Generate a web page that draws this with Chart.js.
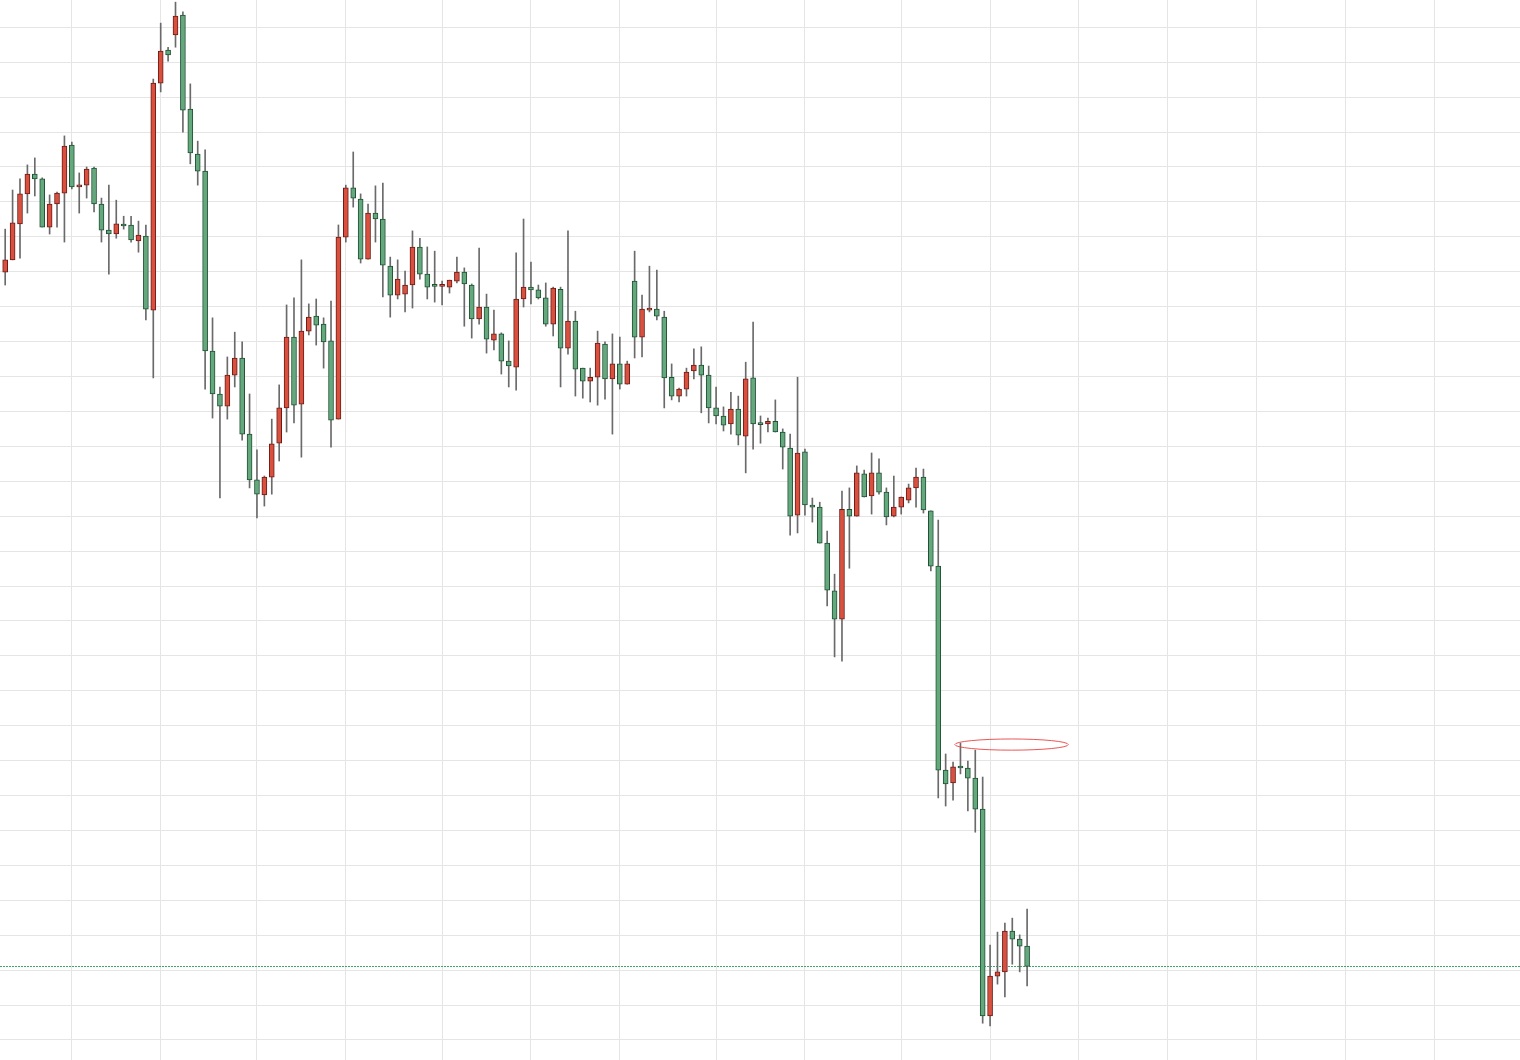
<!DOCTYPE html>
<html>
<head>
<meta charset="utf-8">
<script src="https://cdn.jsdelivr.net/npm/chart.js@4.4.1/dist/chart.umd.min.js"></script>
<style>
  html, body { margin: 0; padding: 0; background: #fff; }
  canvas { display: block; }
</style>
</head>
<body>
<canvas id="klineChart" width="1520" height="1060"></canvas>
<script>
// daily candles (index = trading day)
const opens = [
   52.99, 53.34, 54.37, 55.23, 55.80, 55.66, 54.28, 54.94, 55.25, 56.63,
   55.43, 55.48, 55.97, 54.94, 54.19, 54.08, 54.34, 54.34, 53.88, 54.02,
   51.90, 58.40, 59.35, 59.78, 60.35, 57.66, 56.37, 55.88, 50.73, 49.50,
   49.15, 50.04, 50.53, 48.35, 47.04, 46.61, 47.12, 48.09, 49.10, 51.13,
   49.21, 51.30, 51.73, 51.50, 51.02, 48.78, 53.99, 55.40, 55.08, 53.36,
   54.68, 54.51, 53.16, 52.33, 52.36, 52.62, 53.71, 52.93, 52.59, 52.58,
   52.56, 52.73, 52.99, 52.62, 51.65, 51.99, 51.04, 51.22, 50.44, 50.27,
   52.22, 52.56, 52.48, 52.25, 51.50, 52.50, 50.81, 51.59, 50.24, 49.87,
   49.98, 50.93, 49.93, 50.36, 49.78, 52.73, 51.13, 51.90, 51.93, 51.70,
   49.98, 49.44, 49.64, 50.16, 50.33, 50.04, 49.10, 48.87, 48.64, 49.07,
   48.29, 49.96, 48.64, 48.64, 48.72, 48.41, 47.95, 46.03, 47.84, 46.32,
   46.26, 45.23, 43.86, 43.05, 46.20, 46.00, 47.21, 46.58, 47.24, 46.69,
   46.00, 46.26, 46.46, 46.81, 47.12, 46.15, 44.57, 38.73, 38.36, 38.82,
   38.79, 38.50, 37.61, 31.69, 32.83, 32.95, 34.12, 33.89, 33.69
];
const highs = [
   54.22, 55.34, 55.66, 56.06, 56.26, 55.69, 55.20, 55.28, 56.89, 56.71,
   55.83, 56.00, 56.00, 55.11, 55.48, 55.05, 54.59, 54.59, 54.45, 54.34,
   58.52, 60.12, 59.43, 60.72, 60.44, 58.38, 56.74, 56.49, 51.68, 49.70,
   50.56, 51.27, 50.99, 49.50, 47.90, 47.15, 48.78, 49.76, 52.05, 52.25,
   53.34, 52.08, 52.22, 51.68, 52.16, 54.34, 55.48, 56.43, 55.23, 54.94,
   55.46, 55.54, 53.42, 53.34, 53.02, 54.17, 53.96, 53.71, 53.59, 52.73,
   52.76, 53.42, 53.11, 52.65, 53.68, 52.36, 51.90, 51.25, 51.02, 53.54,
   54.51, 53.28, 52.62, 52.68, 52.56, 52.56, 54.17, 51.87, 50.24, 50.24,
   51.30, 50.99, 51.22, 51.13, 50.44, 53.59, 52.33, 53.16, 53.05, 51.87,
   50.36, 49.67, 50.24, 50.79, 50.85, 50.30, 49.70, 49.13, 49.55, 49.44,
   50.41, 51.56, 48.87, 48.81, 49.33, 48.50, 48.35, 49.98, 47.92, 46.52,
   46.40, 45.57, 44.34, 46.72, 46.81, 47.44, 47.32, 47.81, 47.64, 46.81,
   47.15, 46.55, 46.92, 47.38, 47.35, 46.15, 45.89, 39.19, 38.96, 39.50,
   38.99, 39.30, 38.53, 33.72, 34.09, 34.35, 34.49, 34.01, 34.75
];
const lows = [
   52.62, 53.34, 53.39, 54.68, 55.17, 54.28, 54.08, 54.28, 53.85, 55.37,
   54.68, 55.11, 54.71, 53.85, 52.93, 53.96, 54.22, 53.85, 53.56, 51.62,
   49.96, 58.15, 59.03, 59.43, 57.00, 56.09, 55.48, 49.64, 48.81, 46.52,
   48.78, 49.70, 48.18, 46.81, 45.95, 46.29, 46.63, 47.58, 48.41, 48.67,
   47.69, 51.19, 50.90, 50.24, 47.98, 48.78, 53.85, 54.85, 53.25, 53.36,
   53.85, 52.28, 51.70, 52.22, 51.85, 51.96, 52.79, 52.22, 52.13, 52.05,
   52.39, 52.68, 51.44, 51.10, 51.50, 50.67, 50.76, 50.07, 49.70, 49.61,
   51.99, 52.08, 52.22, 51.44, 51.16, 49.70, 50.64, 49.44, 49.38, 49.27,
   49.18, 49.35, 48.35, 49.64, 49.78, 50.53, 50.56, 51.85, 51.62, 49.10,
   49.33, 49.27, 49.44, 49.93, 48.96, 48.67, 48.64, 48.44, 48.35, 48.04,
   47.24, 47.92, 48.09, 48.41, 48.41, 47.35, 45.46, 45.52, 46.03, 45.83,
   45.23, 43.43, 41.97, 41.85, 44.51, 46.00, 46.55, 46.06, 46.63, 45.75,
   45.98, 46.06, 46.38, 46.26, 46.09, 44.43, 37.93, 37.70, 37.87, 38.62,
   37.56, 36.95, 31.48, 31.40, 32.60, 32.23, 33.17, 32.95, 32.55
];
const closes = [
   53.34, 54.40, 55.23, 55.80, 55.66, 54.28, 54.94, 55.25, 56.60, 55.43,
   55.48, 55.94, 54.94, 54.19, 54.08, 54.37, 54.31, 53.91, 54.05, 51.93,
   58.40, 59.32, 59.21, 60.32, 57.63, 56.40, 55.88, 50.73, 49.50, 49.15,
   50.04, 50.53, 48.35, 47.04, 46.63, 47.12, 48.07, 49.10, 51.13, 49.18,
   51.30, 51.70, 51.47, 50.99, 48.75, 53.99, 55.40, 55.11, 53.36, 54.68,
   54.51, 53.19, 52.33, 52.79, 52.62, 53.71, 52.93, 52.56, 52.58, 52.59,
   52.76, 52.99, 52.65, 51.65, 51.99, 51.07, 51.22, 50.44, 50.30, 52.22,
   52.56, 52.48, 52.25, 51.50, 52.53, 50.81, 51.59, 50.21, 49.87, 49.98,
   50.96, 49.93, 50.36, 49.78, 50.36, 51.13, 51.93, 51.93, 51.73, 49.96,
   49.44, 49.64, 50.13, 50.33, 50.04, 49.10, 48.87, 48.61, 49.07, 48.32,
   49.93, 48.64, 48.62, 48.72, 48.41, 47.98, 46.00, 47.81, 46.32, 46.26,
   45.23, 43.88, 43.05, 46.20, 46.00, 47.24, 46.55, 47.24, 46.69, 45.98,
   46.26, 46.55, 46.81, 47.12, 46.18, 44.57, 38.73, 38.33, 38.82, 38.79,
   38.50, 37.61, 31.69, 32.83, 32.95, 34.12, 33.89, 33.69, 33.11
];

// vertical grid = date ticks (day index), horizontal grid = price ticks
const dateTicks = [9, 21, 34, 46, 59, 71, 83, 96, 108, 121, 133, 145, 157, 169, 181, 193];
const priceTicks = [31, 32, 33, 34, 35, 36, 37, 38, 39, 40, 41, 42, 43, 44, 45,
   46, 47, 48, 49, 50, 51, 52, 53, 54, 55, 56, 57, 58, 59, 60];

const lastClose = closes[closes.length - 1];
// hand drawn ellipse on the chart (data units)
const ellipseMark = { x: 135.9, y: 39.46, rx: 7.66, ry: 0.16 };

const upColor = '#d9503f', upBorder = '#6b1c16';
const downColor = '#66a87e', downBorder = '#1f5234';

const isUp = closes.map((c, i) => c >= opens[i]);

const bodies = opens.map((o, i) => ({ x: i, y: [o, closes[i]] }));
const wicks = opens.map((o, i) => ({ x: i, y: [lows[i], highs[i]] }));

const extras = {
   id: 'extras',
   beforeDatasetsDraw(chart) {
      const { ctx, chartArea, scales } = chart;
      const y = Math.round(scales.y.getPixelForValue(lastClose)) + 0.5;
      ctx.save();
      ctx.strokeStyle = '#3fa56a';
      ctx.lineWidth = 1;
      ctx.setLineDash([2, 1]);
      ctx.beginPath();
      ctx.moveTo(chartArea.left, y);
      ctx.lineTo(chartArea.right, y);
      ctx.stroke();
      ctx.restore();
   },
   afterDatasetsDraw(chart) {
      const { ctx, scales } = chart;
      const cx = scales.x.getPixelForValue(ellipseMark.x);
      const cy = scales.y.getPixelForValue(ellipseMark.y);
      const rx = scales.x.getPixelForValue(ellipseMark.x + ellipseMark.rx) - cx;
      const ry = cy - scales.y.getPixelForValue(ellipseMark.y + ellipseMark.ry);
      ctx.save();
      ctx.strokeStyle = 'rgba(232, 56, 56, 0.85)';
      ctx.lineWidth = 1;
      ctx.beginPath();
      ctx.ellipse(cx, cy, rx, ry, 0, 0, Math.PI * 2);
      ctx.stroke();
      ctx.restore();
   }
};

const ctx = document.getElementById('klineChart').getContext('2d');

new Chart(ctx, {
   type: 'bar',
   data: {
      datasets: [
         {
            label: 'body',
            data: bodies,
            backgroundColor: isUp.map(u => u ? upColor : downColor),
            borderColor: isUp.map(u => u ? upBorder : downBorder),
            borderWidth: 1,
            borderSkipped: false,
            barThickness: 5,
            minBarLength: 2,
            grouped: false,
            order: 0
         },
         {
            label: 'wick',
            data: wicks,
            backgroundColor: '#6a6a6a',
            borderWidth: 0,
            barThickness: 1,
            grouped: false,
            order: 1
         }
      ]
   },
   options: {
      responsive: false,
      animation: false,
      devicePixelRatio: 1,
      layout: { padding: 0 },
      plugins: {
         legend: { display: false },
         tooltip: { enabled: false }
      },
      scales: {
         x: {
            type: 'linear',
            min: -0.70,
            max: 204.56,
            offset: false,
            afterBuildTicks: axis => { axis.ticks = dateTicks.map(v => ({ value: v })); },
            ticks: { display: false },
            grid: { color: '#e5e5e5', lineWidth: 1, drawTicks: false, offset: false },
            border: { display: false }
         },
         y: {
            type: 'linear',
            min: 30.427,
            max: 60.782,
            afterBuildTicks: axis => { axis.ticks = priceTicks.map(v => ({ value: v })); },
            ticks: { display: false },
            grid: { color: '#e5e5e5', lineWidth: 1, drawTicks: false },
            border: { display: false }
         }
      }
   },
   plugins: [extras]
});
</script>
</body>
</html>
